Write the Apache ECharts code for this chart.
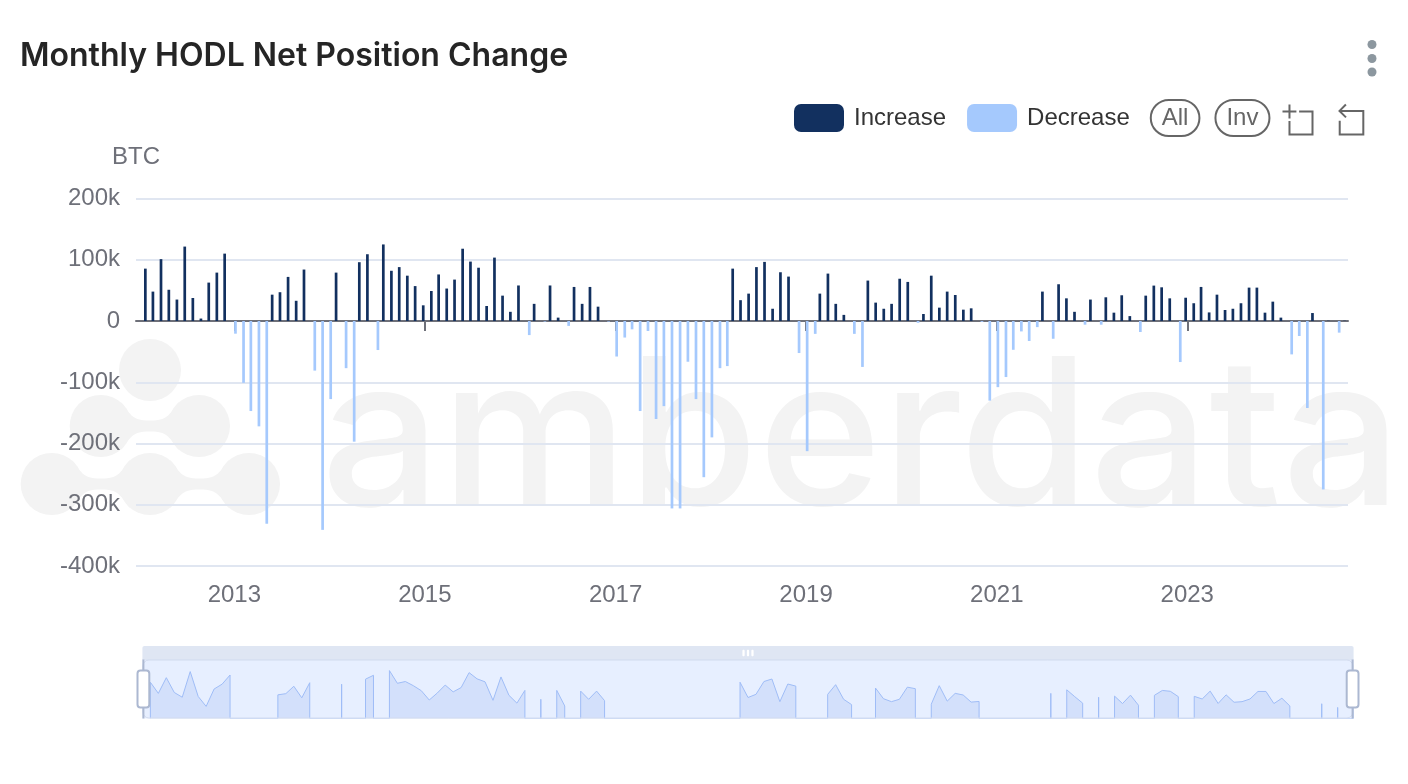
<!DOCTYPE html>
<html>
<head>
<meta charset="utf-8">
<style>html,body{margin:0;padding:0;background:#fff}#c{width:1408px;height:784px}</style>
<script src="https://cdn.jsdelivr.net/npm/echarts@6/dist/echarts.min.js"></script>
</head>
<body>
<div id="c"></div>
<script>
const firstYear = 2011;
const firstMonth = 11;
const titleText = 'Monthly HODL Net Position Change';
const seriesNames = ['Increase', 'Decrease'];
const yUnit = 'BTC';
const tickYears = [2013, 2015, 2017, 2019, 2021, 2023];
const axisStart = '2011-12-21';
const axisEnd = '2024-09-08';
const watermarkText = 'amberdata';
const _ = null;
// thousands of BTC, one entry per month from Dec 2011 (first month has no reading)
const increaseK = [
  _,
  85.5,48,101,51,35,121.5,37.6,4,62.7,79,110,_,
  _,_,_,_,43,47,72,33,84,_,_,_,
  79,_,_,96,109,_,125,82,88,74,57,25.6,
  49,76,53,67.6,118,97,87,24.5,103.5,41.4,15,58,
  _,28,_,58,5.5,_,55.6,28,55.6,23.4,_,_,
  _,_,_,_,_,_,_,_,_,_,_,_,
  _,_,85.5,34,44.7,88,96.5,20,79.6,72.5,_,_,
  _,44.7,77.4,28,10,_,_,66,30,20,28,69,
  63.8,_,11.4,74,21.8,48,42.5,18.5,20.7,_,_,_,
  _,_,_,_,_,48,_,60,37,15,_,35,
  _,38.7,13.6,42,8,_,41.4,57.8,55,37,_,38,
  29,55.6,14,43,18,20,29,54.5,54.5,13.6,31.6,5.5,
  _,_,_,13,_,0.5,_,0.5
];
const decreaseK = [
  _,
  _,_,_,_,_,_,_,_,_,_,_,-20.7,
  -101,-147,-172,-331,_,_,_,_,_,-81,-341,-127.5,
  _,-77,-197,_,_,-47.4,_,_,_,_,_,_,
  _,_,_,_,_,_,_,_,_,_,_,_,
  -23,_,-1,_,_,-8,_,_,_,_,-1,-58,
  -27,-13.6,-147,-16.3,-160,-139,-306,-306,-66.5,-127.5,-255,-190,
  -77,-73.6,_,_,_,_,_,_,_,_,-52.3,-212.5,
  -21,_,_,_,_,-21,-75,_,_,_,_,_,
  _,-3,_,_,_,_,_,_,_,-1.5,-130,-108,
  -91.5,-47,-17,-32.7,-10,_,-29,_,_,_,-6,_,
  -6,_,_,_,_,-18,_,_,_,_,-67,_,
  _,_,_,_,_,_,_,_,_,_,_,_,
  -54.5,-24.5,-142,_,-275,_,-19,_
];

function monthEnd(i) { return new Date(firstYear, firstMonth + i + 1, 0).getTime(); }
function toSeries(arr) { return arr.map(function (v, i) { return [monthEnd(i), v === null ? null : v * 1000]; }); }
function day(s) { var p = s.split('-'); return new Date(+p[0], +p[1] - 1, +p[2]).getTime(); }
const tickValues = tickYears.map(function (y) { return new Date(y, 0, 1).getTime(); });

const WM = '#f3f3f3';
function bez(p0, p1, p2, p3, out) {
  for (var k = 0; k <= 16; k++) {
    var t = k / 16, u = 1 - t;
    out.push([
      u*u*u*p0[0] + 3*u*u*t*p1[0] + 3*u*t*t*p2[0] + t*t*t*p3[0],
      u*u*u*p0[1] + 3*u*u*t*p1[1] + 3*u*t*t*p2[1] + t*t*t*p3[1]
    ]);
  }
}
function link(x1, x2, y) {
  var m = (x1 + x2) / 2, pts = [];
  bez([x1+20,y-24],[x1+30,y-13],[m-20,y-5.5],[m,y-5.5],pts);
  bez([m,y-5.5],[m+20,y-5.5],[x2-30,y-13],[x2-20,y-24],pts);
  bez([x2-20,y+24],[x2-30,y+13],[m+20,y+5.5],[m,y+5.5],pts);
  bez([m,y+5.5],[m-20,y+5.5],[x1+30,y+13],[x1+20,y+24],pts);
  return pts;
}
const logoCircles = [[150,370],[100.7,426],[199,426],[51.7,484],[150,484],[249,484]];
const logoLinks = [[100.7,199,426],[51.7,150,484],[150,249,484]];
const graphics = [];
logoCircles.forEach(function (c) {
  graphics.push({ type:'circle', z:-5, silent:true, shape:{cx:c[0],cy:c[1],r:31}, style:{fill:WM} });
});
logoLinks.forEach(function (l) {
  graphics.push({ type:'polygon', z:-5, silent:true, shape:{points:link(l[0],l[1],l[2])}, style:{fill:WM} });
});
graphics.push({ type:'text', z:-5, silent:true, x:321, y:546, scaleX:1.028, style:{ text:watermarkText, fill:WM, font:'500 205px Inter', textVerticalAlign:'bottom' } });
[44.5,58.5,72].forEach(function (cy) {
  graphics.push({ type:'circle', silent:true, shape:{cx:1372,cy:cy,r:4.5}, style:{fill:'#8c979f'} });
});

const option = {
  animation:false,
  backgroundColor:'#fff',
  color:['#12305f','#a5c9fd'],
  title:{ text:titleText, left:20, top:40, padding:0, textStyle:{ fontFamily:'Inter', fontWeight:600, fontSize:32, color:'#252525' } },
  graphic:graphics,
  legend:{
    show:true, left:794, top:99, padding:0, itemWidth:50, itemHeight:28, itemGap:21,
    icon:'roundRect',
    textStyle:{ fontFamily:'Liberation Sans', fontSize:24, color:'#333', padding:[0,0,0,5] },
    selector:[{type:'all',title:'All'},{type:'inverse',title:'Inv'}],
    selectorLabel:{ fontFamily:'Liberation Sans', fontSize:24, color:'#666', borderColor:'#666', borderWidth:2, borderRadius:20, padding:[6,11] },
    selectorItemGap:14, selectorButtonGap:20, selectorPosition:'end',
    data:seriesNames
  },
  toolbox:{
    show:true, left:1280, top:102, padding:0, itemSize:30, itemGap:22,
    iconStyle:{ borderColor:'#666', borderWidth:2 },
    feature:{ dataZoom:{ show:true, title:{zoom:'',back:''} } }
  },
  grid:{ left:136, right:60, top:198.5, bottom:218, containLabel:false },
  xAxis:[
    { type:'value', min:day(axisStart), max:day(axisEnd), position:'bottom',
      axisLine:{ show:false, onZero:false }, axisTick:{ show:false }, splitLine:{ show:false },
      axisLabel:{ show:true, customValues:tickValues, margin:17, fontFamily:'Liberation Sans', fontSize:24, color:'#6E7079',
        formatter:function (v) { return String(new Date(v).getFullYear()); } } },
    { type:'value', min:day(axisStart), max:day(axisEnd), position:'bottom',
      axisLine:{ show:true, onZero:true, lineStyle:{ color:'#6E7079', width:2 } },
      axisTick:{ show:true, length:10, customValues:tickValues, lineStyle:{ color:'#6E7079', width:2 } },
      splitLine:{ show:false }, axisLabel:{ show:false } }
  ],
  yAxis:{
    type:'value', min:-400000, max:200000, interval:100000,
    name:yUnit, nameGap:29, nameLocation:'end',
    nameTextStyle:{ fontFamily:'Liberation Sans', fontSize:24, color:'#6E7079', align:'center' },
    axisLine:{ show:false }, axisTick:{ show:false },
    splitLine:{ show:true, lineStyle:{ color:'#E0E6F1', width:2 } },
    axisLabel:{ margin:16, fontFamily:'Liberation Sans', fontSize:24, color:'#6E7079',
      formatter:function (v) { return v === 0 ? '0' : (v / 1000) + 'k'; } }
  },
  dataZoom:[{
    type:'slider', xAxisIndex:0, left:136.8, right:60, top:646, height:59, start:0, end:100,
    moveHandleSize:14, showDetail:false, brushSelect:true,
    borderColor:'#d2dbee', borderRadius:6,
    fillerColor:'rgba(135,175,274,0.2)',
    handleSize:'100%',
    handleStyle:{ color:'#fff', borderColor:'#ACB8D1', borderWidth:2 },
    moveHandleStyle:{ color:'#D2DBEE', opacity:0.7 },
    dataBackground:{ lineStyle:{ color:'#A5C0F5', width:1, opacity:1 }, areaStyle:{ color:'#c9d7f5', opacity:0.45 } },
    selectedDataBackground:{ lineStyle:{ color:'#A5C0F5', width:1, opacity:1 }, areaStyle:{ color:'#c9d7f5', opacity:0.45 } }
  }],
  series:[
    { name:seriesNames[0], type:'bar', xAxisIndex:0, barWidth:2.7, barGap:0, data:toSeries(increaseK) },
    { name:seriesNames[1], type:'bar', xAxisIndex:0, barWidth:2.7, barGap:0, data:toSeries(decreaseK) }
  ]
};
const chart = echarts.init(document.getElementById('c'), null, { renderer:'canvas' });
chart.setOption(option);
</script>
</body>
</html>
